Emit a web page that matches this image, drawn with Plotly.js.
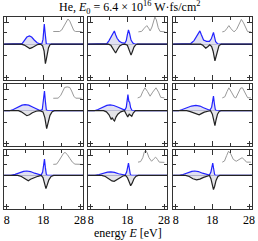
<!DOCTYPE html>
<html><head><meta charset="utf-8">
<script src="https://cdn.plot.ly/plotly-3.0.1.min.js"></script>
<style>html,body{margin:0;padding:0;background:#fff}#c{width:258px;height:241px}</style>
</head><body><div id="c"></div>
<script>
// x tick labels
const xTickVals = [8, 18, 28];
const xTickText = ['8', '18', '28'];
const xMinorVals = [13, 23];
// panel data: [energy, value]
const blue1 = [[7.3,0],[11.5,0],[12.2,0.05],[12.8,0.3],[13.5,0.6],[14.2,0.7],[14.8,0.6],[15.5,0.35],[16.3,0.12],[17.0,0.03],[17.6,0.05],[17.9,0.4],[18.1,1.2],[18.25,1.7],[18.4,1.2],[18.6,0.3],[18.8,0],[28.8,0]];
const black1 = [[7.3,0],[12,0],[12.8,-0.08],[13.5,-0.25],[14.3,-0.38],[14.9,-0.3],[15.6,-0.15],[16.3,-0.05],[17.2,0],[17.8,-0.15],[18.2,-0.6],[18.55,-1.65],[18.8,-1.3],[19.1,-0.7],[19.4,-0.3],[19.8,-0.05],[20.2,0],[28.8,0]];
const gray1 = [[20.7,1.07],[22.4,1.07],[23.0,1.2],[23.6,1.55],[24.2,1.95],[24.7,2.13],[25.2,1.95],[25.8,1.5],[26.3,1.15],[26.8,1.07],[28.4,1.07]];

const blue2 = [[7.3,0],[11.8,0],[12.4,0.05],[13.0,0.3],[13.7,0.75],[14.2,1.0],[14.45,1.12],[14.8,0.8],[15.2,0.5],[15.8,0.25],[16.6,0.1],[17.3,0.08],[17.7,0.3],[18.0,0.8],[18.3,1.2],[18.6,0.9],[19.0,0.35],[19.5,0.1],[20.0,0],[28.8,0]];
const black2 = [[7.3,0],[12.8,0],[13.5,-0.1],[14.1,-0.4],[14.8,-0.75],[15.3,-0.45],[15.9,-0.15],[16.6,-0.03],[17.3,0],[18.0,-0.1],[18.5,-0.45],[19.0,-0.93],[19.4,-0.6],[19.8,-0.25],[20.3,-0.05],[20.8,0],[28.8,0]];
const gray2 = [[21.0,1.04],[21.9,1.08],[22.6,1.35],[23.3,1.57],[23.8,1.35],[24.2,1.12],[24.7,1.45],[25.1,2.0],[25.5,2.3],[25.9,2.05],[26.4,1.4],[26.9,1.08],[28.3,1.04]];

const blue3 = [[7.3,0],[11.5,0],[12.1,0.05],[13.0,0.3],[13.8,0.7],[14.3,1.0],[14.6,1.12],[15.0,0.8],[15.6,0.35],[16.4,0.24],[17.2,0.24],[17.7,0.45],[18.0,0.8],[18.3,0.99],[18.6,0.6],[18.9,0.2],[19.4,0.03],[19.8,0],[28.8,0]];
const black3 = [[7.3,0],[14.8,0],[15.4,-0.1],[16.2,-0.35],[16.8,-0.2],[17.3,-0.05],[17.8,-0.2],[18.2,-0.6],[18.7,-1.41],[19.0,-1.0],[19.4,-0.4],[19.8,-0.12],[20.4,0],[28.8,0]];
const gray3 = [[20.7,1.04],[21.3,1.08],[21.9,1.3],[22.5,1.57],[23.1,1.3],[23.9,1.04],[24.6,1.25],[25.3,1.75],[25.9,2.1],[26.5,1.8],[27.1,1.3],[27.6,1.06],[28.5,1.04]];

const blue4 = [[7.3,0],[8.8,0],[9.8,0.1],[11.0,0.3],[12.2,0.48],[13.0,0.53],[14.0,0.48],[15.2,0.3],[16.3,0.12],[17.1,0.02],[17.7,0.1],[18.0,0.7],[18.3,1.7],[18.55,0.8],[18.8,0.1],[19.1,0],[28.8,0]];
const black4 = [[7.3,0],[11.2,0],[12.0,-0.1],[12.8,-0.3],[13.5,-0.43],[14.2,-0.35],[15.0,-0.18],[16.0,-0.05],[17.0,0],[17.9,-0.1],[18.4,-0.6],[18.9,-1.55],[19.3,-1.0],[19.8,-0.4],[20.4,-0.08],[21.0,0],[28.8,0]];
const gray4 = [[20.7,1.07],[22.0,1.08],[22.7,1.3],[23.3,1.7],[23.8,2.0],[24.5,2.05],[25.2,2.0],[25.7,1.7],[26.3,1.25],[26.8,1.08],[28.4,1.07]];

const blue5 = [[7.3,0],[9.0,0],[10.0,0.1],[11.2,0.3],[12.4,0.46],[13.3,0.5],[14.3,0.45],[15.5,0.3],[16.5,0.12],[17.3,0.05],[17.7,0.3],[18.0,1.0],[18.15,1.39],[18.4,0.8],[18.6,0.75],[18.9,0.25],[19.3,0],[28.8,0]];
const black5 = [[7.3,0],[11.5,0],[12.3,-0.1],[13.0,-0.35],[13.6,-0.75],[13.9,-0.6],[14.2,-0.8],[14.5,-0.88],[14.9,-0.55],[15.4,-0.3],[16.2,-0.1],[17.2,0],[17.7,-0.3],[18.1,-0.53],[18.5,-0.3],[18.8,-0.38],[19.2,-0.48],[19.6,-0.2],[20.2,0],[28.8,0]];
const gray5 = [[20.8,1.1],[21.6,1.2],[22.2,1.65],[22.8,1.97],[23.5,1.65],[24.2,1.25],[24.9,1.6],[25.8,1.97],[26.5,1.6],[27.1,1.15],[28.1,1.1]];

const blue6 = [[7.3,0],[8.8,0],[9.8,0.1],[11.0,0.25],[12.3,0.4],[13.5,0.45],[14.6,0.4],[15.6,0.25],[16.6,0.1],[17.3,0.03],[17.8,0.3],[18.1,1.0],[18.3,1.25],[18.55,0.6],[18.8,0.1],[19.1,0],[28.8,0]];
const black6 = [[7.3,0],[11.0,0],[12.0,-0.08],[13.0,-0.2],[13.8,-0.3],[14.4,-0.35],[15.0,-0.25],[15.8,-0.12],[16.8,-0.05],[17.5,0],[18.0,-0.3],[18.4,-0.9],[18.7,-1.28],[19.0,-0.8],[19.4,-0.3],[19.9,-0.05],[20.4,0],[28.8,0]];
const gray6 = [[20.7,1.1],[21.4,1.2],[22.0,1.65],[22.5,1.97],[23.2,1.6],[24.0,1.15],[24.4,1.1],[25.1,1.55],[25.7,1.95],[26.2,1.97],[26.9,1.5],[27.6,1.12],[28.5,1.1]];

const blue7 = [[7.3,0],[9.2,0],[10.3,0.1],[11.5,0.25],[12.6,0.37],[13.5,0.4],[14.5,0.35],[15.6,0.2],[16.6,0.08],[17.4,0.03],[17.8,0.3],[18.1,1.0],[18.3,1.47],[18.55,0.7],[18.8,0.1],[19.1,0],[28.8,0]];
const black7 = [[7.3,0],[11.0,0],[12.0,-0.1],[12.9,-0.3],[13.6,-0.45],[13.9,-0.48],[14.5,-0.35],[15.5,-0.2],[16.5,-0.08],[17.4,0],[17.9,-0.2],[18.3,-0.7],[18.7,-1.2],[19.0,-0.9],[19.5,-0.4],[20.1,-0.1],[20.8,0],[28.8,0]];
const gray7 = [[20.7,1.0],[21.6,1.02],[22.2,1.3],[22.9,1.75],[23.5,2.0],[23.9,2.08],[24.5,1.9],[25.2,1.55],[25.9,1.2],[26.6,1.02],[28.4,1.0]];

const blue8 = [[7.3,0],[9.2,0],[10.3,0.08],[11.5,0.2],[12.6,0.3],[13.5,0.32],[14.5,0.28],[15.6,0.15],[16.6,0.06],[17.4,0.03],[17.8,0.3],[18.1,0.9],[18.3,1.12],[18.55,0.6],[18.8,0.1],[19.1,0],[28.8,0]];
const black8 = [[7.3,0],[11.0,0],[12.0,-0.1],[12.9,-0.3],[13.8,-0.5],[14.4,-0.53],[15.0,-0.4],[15.8,-0.2],[16.8,-0.05],[17.5,0],[18.0,-0.2],[18.5,-0.6],[18.9,-0.93],[19.3,-0.7],[19.8,-0.3],[20.4,-0.06],[21.0,0],[28.8,0]];
const gray8 = [[20.9,1.2],[21.6,1.25],[22.2,1.6],[22.6,2.1],[23.0,2.25],[23.4,2.05],[23.9,1.6],[24.6,1.28],[25.2,1.5],[25.7,1.65],[26.2,1.45],[26.7,1.2],[28.1,1.18]];

const blue9 = [[7.3,0],[9.0,0],[10.0,0.08],[11.2,0.25],[12.4,0.37],[13.2,0.4],[14.2,0.35],[15.3,0.2],[16.4,0.07],[17.2,0.03],[17.6,0.3],[17.9,0.9],[18.1,1.12],[18.35,0.6],[18.6,0.1],[18.9,0],[28.8,0]];
const black9 = [[7.3,0],[10.7,0],[11.7,-0.1],[12.7,-0.3],[13.7,-0.4],[14.6,-0.33],[15.6,-0.18],[16.6,-0.05],[17.2,0],[17.6,-0.3],[18.0,-0.9],[18.3,-1.28],[18.6,-1.0],[19.0,-0.45],[19.5,-0.1],[20.0,0],[28.8,0]];
const gray9 = [[20.7,1.2],[21.3,1.3],[21.9,1.8],[22.4,2.19],[23.0,1.95],[23.7,1.45],[24.5,1.28],[25.3,1.45],[26.1,1.6],[26.8,1.4],[27.3,1.2],[28.5,1.2]];

const panels = [
  [blue1, black1, gray1], [blue2, black2, gray2], [blue3, black3, gray3],
  [blue4, black4, gray4], [blue5, black5, gray5], [blue6, black6, gray6],
  [blue7, black7, gray7], [blue8, black8, gray8], [blue9, black9, gray9]
];

const W = 258, H = 241;
const colX = [[4, 83], [88, 167], [173, 252]];
const rowY = [[17, 80], [84, 146], [150, 209]];
const traces = [];
const layout = {
  width: W, height: H, margin: {l: 0, r: 0, t: 0, b: 0},
  paper_bgcolor: '#fff', plot_bgcolor: '#fff', showlegend: false,
  font: {family: 'Liberation Serif, serif', size: 12, color: '#000'},
  annotations: []
};
panels.forEach((p, i) => {
  const r = Math.floor(i / 3), c = i % 3;
  const n = i === 0 ? '' : String(i + 1);
  const xa = 'x' + n, ya = 'y' + n;
  const [bl, bk, gr] = p;
  traces.push({x: bl.map(d => d[0]), y: bl.map(d => d[1]), xaxis: xa, yaxis: ya, type: 'scatter', mode: 'lines',
    line: {color: 'rgb(35,35,255)', width: 1.2}, fill: 'tozeroy', fillcolor: 'rgba(224,224,242,1)'});
  traces.push({x: bk.map(d => d[0]), y: bk.map(d => d[1]), xaxis: xa, yaxis: ya, type: 'scatter', mode: 'lines',
    line: {color: '#222', width: 1.2}, fill: 'tozeroy', fillcolor: 'rgba(228,228,232,1)'});
  traces.push({x: gr.map(d => d[0]), y: gr.map(d => d[1]), xaxis: xa, yaxis: ya, type: 'scatter', mode: 'lines',
    line: {color: '#999', width: 1}});
  layout['xaxis' + n] = {
    domain: [colX[c][0] / W, colX[c][1] / W], anchor: ya, range: [7.27, 28.8],
    tickmode: 'array', tickvals: xTickVals, ticktext: xTickText, showticklabels: r === 2,
    ticks: 'inside', ticklen: 5, tickcolor: '#333', tickwidth: 1,
    minor: {tickmode: 'array', tickvals: xMinorVals, ticks: 'inside', ticklen: 3, tickcolor: '#333'},
    showline: true, linecolor: '#333', linewidth: 1, mirror: 'ticks', showgrid: false, zeroline: false,
    tickfont: {family: 'Liberation Serif, serif', size: 12}, fixedrange: true
  };
  layout['yaxis' + n] = {
    domain: [1 - rowY[r][1] / H, 1 - rowY[r][0] / H], anchor: xa, range: [-3.04, 2.3],
    tickmode: 'array', tickvals: [-2.8, 1.8], showticklabels: false,
    ticks: 'inside', ticklen: 5, tickcolor: '#333',
    minor: {tickmode: 'array', tickvals: [-1, 1], ticks: 'inside', ticklen: 3, tickcolor: '#333'},
    showline: true, linecolor: '#333', linewidth: 1, mirror: 'ticks', showgrid: false,
    zeroline: true, zerolinecolor: '#1a1a66', zerolinewidth: 1, fixedrange: true
  };
});
layout.annotations.push({text: 'He, <i>E</i><sub>0</sub> = 6.4 × 10<sup>16</sup> W·fs/cm<sup>2</sup>',
  xref: 'paper', yref: 'paper', x: 0.5, y: 1 - 8 / H, xanchor: 'center', yanchor: 'middle', showarrow: false,
  font: {family: 'Liberation Serif, serif', size: 12}});
layout.annotations.push({text: 'energy <i>E</i> [eV]',
  xref: 'paper', yref: 'paper', x: 127.5 / W, y: 1 - 233 / H, xanchor: 'center', yanchor: 'middle', showarrow: false,
  font: {family: 'Liberation Serif, serif', size: 12}});
Plotly.newPlot('c', traces, layout, {staticPlot: true, displayModeBar: false});
</script></body></html>
